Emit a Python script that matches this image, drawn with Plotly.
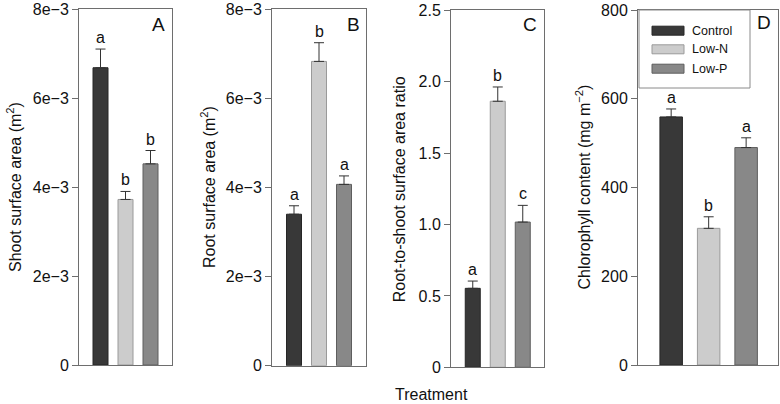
import plotly.graph_objects as go

W, H = 780, 404

treatments = ["Control", "Low-N", "Low-P"]
bar_colors = ["#383838", "#cccccc", "#888888"]
bar_edges = ["#262626", "#9a9a9a", "#5e5e5e"]

shoot_area = [6.68e-3, 3.72e-3, 4.52e-3]
shoot_err = [0.42e-3, 0.18e-3, 0.30e-3]
shoot_sig = ["a", "b", "b"]

root_area = [3.40e-3, 6.83e-3, 4.07e-3]
root_err = [0.19e-3, 0.42e-3, 0.19e-3]
root_sig = ["a", "b", "a"]

ratio = [0.553, 1.863, 1.017]
ratio_err = [0.051, 0.100, 0.117]
ratio_sig = ["a", "b", "c"]

chl = [559, 308, 490]
chl_err = [18, 26, 22]
chl_sig = ["a", "b", "a"]

area_ticks = [0, 0.002, 0.004, 0.006, 0.008]
area_ticktext = ["0", "2e\u22123", "4e\u22123", "6e\u22123", "8e\u22123"]
ratio_ticks = [0, 0.5, 1.0, 1.5, 2.0, 2.5]
ratio_ticktext = ["0", "0.5", "1.0", "1.5", "2.0", "2.5"]
chl_ticks = [0, 200, 400, 600, 800]
chl_ticktext = ["0", "200", "400", "600", "800"]

panels = [
    dict(vals=shoot_area, err=shoot_err, sig=shoot_sig, letter="A",
         title="Shoot surface area (m<sup>2</sup>)", yr=[0, 0.008],
         ticks=area_ticks, ticktext=area_ticktext,
         px=(79, 172), py=(9, 365), xr=[-0.86, 2.86], title_x=14, letter_xy=(158, 24.5)),
    dict(vals=root_area, err=root_err, sig=root_sig, letter="B",
         title="Root surface area (m<sup>2</sup>)", yr=[0, 0.008],
         ticks=area_ticks, ticktext=area_ticktext,
         px=(272, 366), py=(9.3, 365.7), xr=[-0.88, 2.88], title_x=207.5, letter_xy=(353, 24.5)),
    dict(vals=ratio, err=ratio_err, sig=ratio_sig, letter="C",
         title="Root-to-shoot surface area ratio", yr=[0, 2.5],
         ticks=ratio_ticks, ticktext=ratio_ticktext,
         px=(451, 544), py=(10.3, 367.3), xr=[-0.87, 2.85], title_x=399.5, letter_xy=(530, 24.5)),
    dict(vals=chl, err=chl_err, sig=chl_sig, letter="D",
         title="Chlorophyll content (mg m<sup>\u22122</sup>)", yr=[0, 800],
         ticks=chl_ticks, ticktext=chl_ticktext,
         px=(638, 778), py=(10, 365), xr=[-0.885, 2.85], title_x=583, letter_xy=(764, 22)),
]

FONT = "Liberation Sans, Arial, Helvetica, sans-serif"
fig = go.Figure()
annotations = []
shapes = []

for i, p in enumerate(panels):
    n = "" if i == 0 else str(i + 1)
    xa, ya = "x" + n, "y" + n
    fig.add_trace(go.Bar(
        x=treatments, y=p["vals"], xaxis=xa, yaxis=ya, width=0.6,
        marker=dict(color=bar_colors, line=dict(color=bar_edges, width=1)),
        error_y=dict(type="data", array=p["err"], arrayminus=[0, 0, 0], symmetric=False,
                     color="#333333", thickness=1, width=5),
        showlegend=False, hoverinfo="skip",
    ))
    xd = [p["px"][0] / W, p["px"][1] / W]
    yd = [(H - p["py"][1]) / H, (H - p["py"][0]) / H]
    fig.layout["xaxis" + n] = dict(
        domain=xd, range=p["xr"], type="category", categoryorder="array",
        categoryarray=treatments, showticklabels=False, ticks="",
        showline=True, mirror=True, linecolor="#6e6e6e", linewidth=1,
        showgrid=False, zeroline=False, anchor=ya, fixedrange=True, automargin=False)
    fig.layout["yaxis" + n] = dict(
        domain=yd, range=p["yr"], tickvals=p["ticks"], ticktext=p["ticktext"],
        ticks="outside", ticklen=6, tickcolor="#6e6e6e", tickwidth=1,
        showline=True, mirror=True, linecolor="#6e6e6e", linewidth=1,
        showgrid=False, zeroline=False, anchor=xa, automargin=False,
        tickfont=dict(family=FONT, size=16, color="#111111"), fixedrange=True)
    for c, v, e, s in zip(treatments, p["vals"], p["err"], p["sig"]):
        annotations.append(dict(x=c, y=v + e, xref=xa, yref=ya, text=s, showarrow=False,
                                yanchor="bottom", yshift=1,
                                font=dict(family=FONT, size=16, color="#111111")))
    annotations.append(dict(x=p["title_x"] / W, y=(yd[0] + yd[1]) / 2, xref="paper", yref="paper",
                            text=p["title"], textangle=-90, showarrow=False,
                            xanchor="center", yanchor="middle",
                            font=dict(family=FONT, size=16, color="#111111")))
    annotations.append(dict(x=p["letter_xy"][0] / W, y=(H - p["letter_xy"][1]) / H,
                            xref="paper", yref="paper", text=p["letter"], showarrow=False,
                            xanchor="center", yanchor="middle",
                            font=dict(family=FONT, size=19, color="#111111")))

annotations.append(dict(x=431 / W, y=(H - 394) / H, xref="paper", yref="paper",
                        text="Treatment", showarrow=False, xanchor="center", yanchor="middle",
                        font=dict(family=FONT, size=16, color="#111111")))

# Legend (drawn in panel D)
shapes.append(dict(type="rect", xref="paper", yref="paper",
                   x0=639 / W, x1=750 / W, y0=(H - 88) / H, y1=(H - 10) / H,
                   line=dict(color="#8a8a8a", width=1), fillcolor="white"))
row_y = [30.7, 49.3, 68.7]
for t, col, edge, ry in zip(treatments, bar_colors, bar_edges, row_y):
    shapes.append(dict(type="rect", xref="paper", yref="paper",
                       x0=652 / W, x1=684 / W, y0=(H - ry - 4.5) / H, y1=(H - ry + 4.5) / H,
                       line=dict(color=edge, width=1), fillcolor=col))
    annotations.append(dict(x=690 / W, y=(H - ry) / H, xref="paper", yref="paper",
                            text=t, showarrow=False, xanchor="left", yanchor="middle",
                            font=dict(family=FONT, size=12.5, color="#111111")))

fig.update_layout(
    width=W, height=H, margin=dict(l=0, r=0, t=0, b=0, autoexpand=False),
    paper_bgcolor="white", plot_bgcolor="white",
    annotations=annotations, shapes=shapes, bargap=0.4,
)

fig.write_html("out.html", config={"displayModeBar": False},
               post_script="document.body.style.margin='0';document.body.style.overflow='hidden';")
